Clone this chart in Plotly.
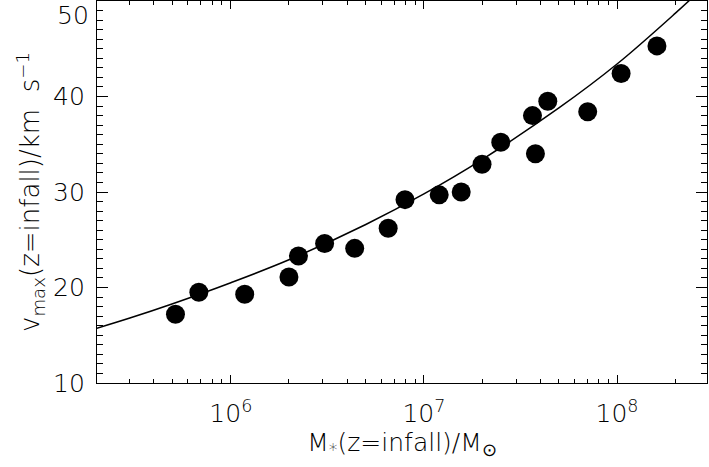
import plotly.graph_objects as go

# Data points (stellar mass at infall, vmax at infall)
mstar = [5.17e5, 6.83e5, 1.18e6, 2.00e6, 2.24e6, 3.06e6, 4.38e6, 6.53e6, 7.98e6,
         1.20e7, 1.56e7, 2.00e7, 2.50e7, 3.65e7, 3.78e7, 4.38e7, 7.05e7, 1.05e8, 1.61e8]
vmax = [17.2, 19.5, 19.3, 21.1, 23.3, 24.6, 24.1, 26.2, 29.2,
        29.7, 30.0, 32.9, 35.2, 38.0, 34.0, 39.5, 38.4, 42.4, 45.3]

# Relation curve
curve_m = [2.0e5, 3.0e5, 5.0e5, 1.0e6, 2.0e6, 5.0e6, 1.0e7, 2.0e7, 5.0e7, 1.0e8, 2.0e8, 3.0e8]
curve_v = [15.7, 16.8, 18.3, 20.5, 22.9, 26.6, 29.8, 33.4, 38.8, 43.4, 48.7, 52.0]

x_major = [1e6, 1e7, 1e8]
x_major_text = ["10<sup>6</sup>", "10<sup>7</sup>", "10<sup>8</sup>"]
x_minor = [k * 10 ** e for e in (5, 6, 7, 8) for k in range(2, 10)]
y_major = [10, 20, 30, 40]

FONT = "DejaVu Sans"
WEIGHT = 200

fig = go.Figure()
fig.add_trace(go.Scatter(x=curve_m, y=curve_v, mode="lines", line=dict(color="black", width=1.5, shape="spline"),
                         hoverinfo="skip", showlegend=False))
fig.add_trace(go.Scatter(x=mstar, y=vmax, mode="markers", marker=dict(color="black", size=19, line=dict(width=0)),
                         showlegend=False))

fig.update_layout(
    width=709, height=467,
    margin=dict(l=97, r=2, t=1, b=84, autoexpand=False),
    paper_bgcolor="white", plot_bgcolor="white",
    font=dict(family=FONT, size=25, color="black", weight=WEIGHT),
    xaxis=dict(
        type="log", range=[5.307, 8.466], automargin=False,
        tickmode="array", tickvals=x_major, ticktext=x_major_text,
        ticks="inside", ticklen=8, tickwidth=1, tickcolor="black",
        minor=dict(tickmode="array", tickvals=x_minor, ticks="inside", ticklen=4, tickwidth=1, tickcolor="black"),
        showline=True, linecolor="black", linewidth=1.2, mirror="ticks",
        showgrid=False, zeroline=False, ticklabelstandoff=8,
        tickfont=dict(size=25, weight=WEIGHT),
        title=dict(text="M<sub>*</sub>(z=infall)/M<sub>⊙</sub>", font=dict(size=25, weight=WEIGHT), standoff=6),
    ),
    yaxis=dict(
        range=[10, 50], automargin=False,
        tickmode="array", tickvals=y_major,
        ticks="inside", ticklen=11, tickwidth=1, tickcolor="black",
        minor=dict(dtick=1, ticks="inside", ticklen=6, tickwidth=1, tickcolor="black"),
        showline=True, linecolor="black", linewidth=1.2, mirror="ticks",
        showgrid=False, zeroline=False, ticklabelstandoff=6,
        tickfont=dict(size=25, weight=WEIGHT),
        title=dict(text="v<sub>max</sub>(z=infall)/km  s<sup>−1</sup>", font=dict(size=26, weight=WEIGHT), standoff=5),
    ),
    annotations=[dict(text="50", xref="paper", x=0, xanchor="right", xshift=-6,
                      yref="y", y=50, yanchor="top", yshift=2, showarrow=False,
                      font=dict(size=25, weight=WEIGHT))],
)

fig.write_html("out.html", config={"displayModeBar": False},
               post_script="document.body.style.margin='0';document.body.style.overflow='hidden';")
